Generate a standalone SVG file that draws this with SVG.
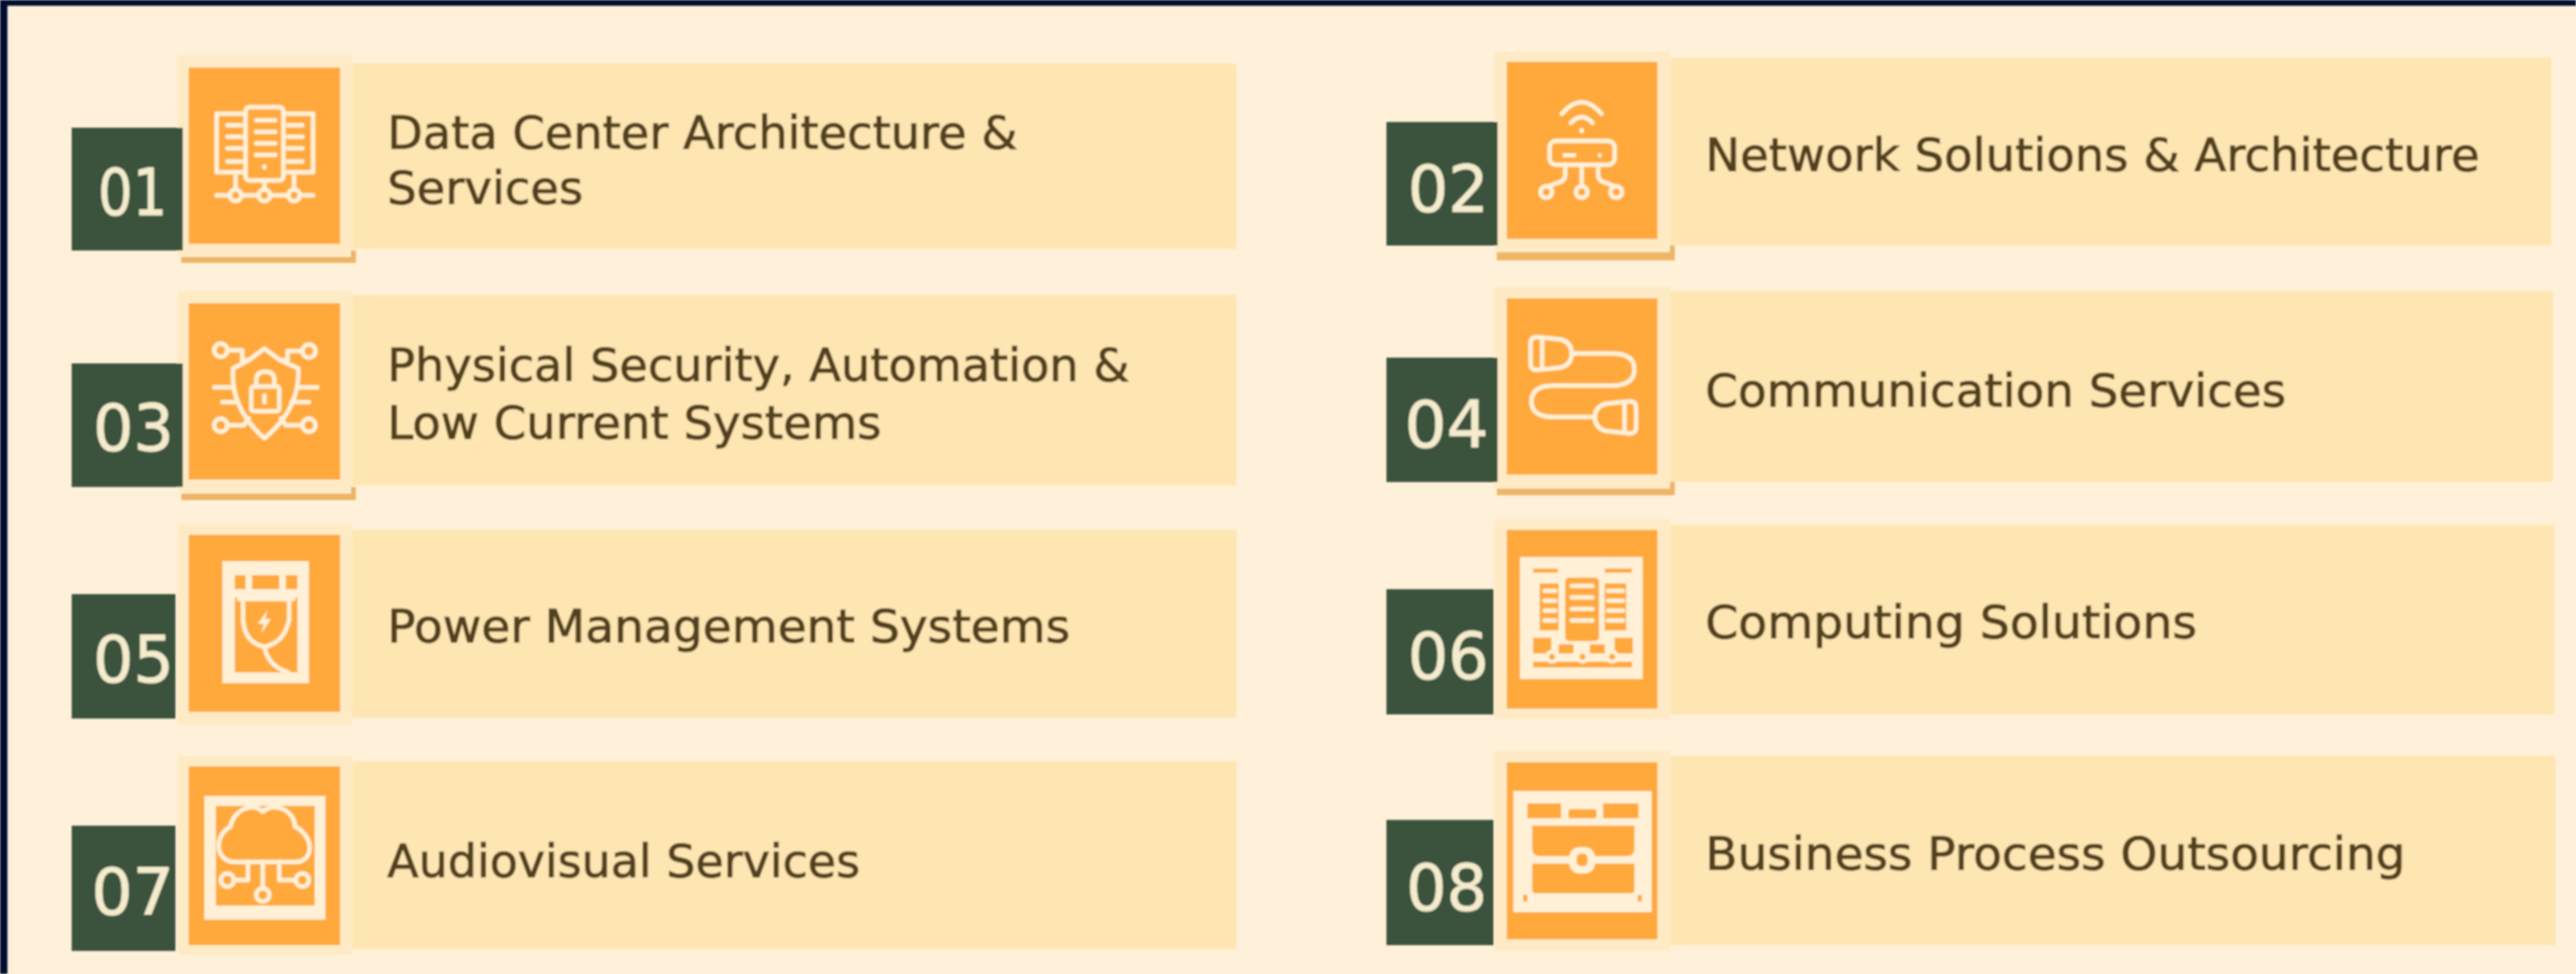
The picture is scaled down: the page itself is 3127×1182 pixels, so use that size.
<svg xmlns="http://www.w3.org/2000/svg" width="3127" height="1182" viewBox="0 0 3127 1182">
<style>
.bar{fill:#fee6b3}.halo{fill:#feebc6}.or{fill:#ffa93c}.box{fill:#3b523c}.under{fill:#edb566}
.lt{fill:#fff0d6}.lns{fill:none;stroke:#fff0d6;stroke-width:5.5;stroke-linecap:round;stroke-linejoin:round}
.lblf{fill:#ffa93c;stroke:#fff0d6;stroke-width:5;stroke-linejoin:round}
.num{font-family:"DejaVu Sans",sans-serif;font-size:78px;fill:#f5ecce;stroke:#f5ecce;stroke-width:.8}
.txt{font-family:"DejaVu Sans",sans-serif;font-size:56px;fill:#53401c;stroke:#53401c;stroke-width:1.1}
</style>
<defs><filter id="soft" x="0" y="0" width="100%" height="100%"><feGaussianBlur stdDeviation="1"/></filter></defs>
<rect width="3127" height="1182" fill="#fff1d9"/>
<g filter="url(#soft)">
<rect x="0" y="0" width="3127" height="7" fill="#030f33"/>
<rect x="0" y="0" width="9" height="1182" fill="#030f33"/>

<g id="node-01">
<rect class="bar" x="428" y="77" width="1073" height="225"/>
<rect class="halo" x="215" y="67" width="213" height="245"/>
<rect class="or" x="229" y="82" width="184" height="214"/>
<rect class="under" x="220" y="312" width="212" height="7"/><rect class="under" x="426" y="304" width="6" height="8"/>
<rect class="box" x="87" y="155" width="135" height="149"/>
<text class="num" x="119" y="261" textLength="84" lengthAdjust="spacingAndGlyphs">01</text>
<g class="lns"><path d="M298 209H263V138H298M344 138H380V209H344"/><rect x="298" y="130" width="46" height="89" rx="5"/>
<path d="M311 146H334M311 160H334M311 174H334M311 188H334M321 202V203M276 152H293M276 166H293M276 180H293M276 196H293M349 152H367M349 166H367M349 180H367M349 196H367M286 209V230M321 219V230M357 209V230M263 237H279M293 237H314M328 237H350M364 237H380"/>
<circle cx="286" cy="237" r="7"/><circle cx="321" cy="237" r="7"/><circle cx="357" cy="237" r="7"/></g>
<text class="txt" x="470" y="180" textLength="765" lengthAdjust="spacingAndGlyphs">Data Center Architecture &amp;</text>
<text class="txt" x="470" y="247" textLength="238" lengthAdjust="spacingAndGlyphs">Services</text>
</g>

<g id="node-02">
<rect class="bar" x="2028" y="70" width="1069" height="228"/>
<rect class="halo" x="1814" y="63" width="214" height="243"/>
<rect class="or" x="1829" y="75" width="183" height="215"/>
<rect class="under" x="1817" y="306" width="216" height="10"/><rect class="under" x="2027" y="298" width="6" height="8"/>
<rect class="box" x="1683" y="148" width="135" height="150"/>
<text class="num" x="1709" y="257" textLength="98" lengthAdjust="spacingAndGlyphs">02</text>
<g class="lns"><path d="M1896 138Q1920 110 1944 138M1907 149Q1920 135 1933 149M1920 158V159"/><rect x="1881" y="171" width="79" height="29" rx="8"/>
<path d="M1920 200V226M1900 200V212Q1900 220 1890 222L1880 226M1940 200V212Q1940 220 1950 222L1960 226"/>
<circle cx="1877" cy="233" r="7"/><circle cx="1920" cy="233" r="7"/><circle cx="1962" cy="233" r="7"/></g>
<rect class="lt" x="1897" y="186" width="16" height="5"/><rect class="lt" x="1940" y="186" width="4" height="5"/>
<text class="txt" x="2070" y="207" textLength="940" lengthAdjust="spacingAndGlyphs">Network Solutions &amp; Architecture</text>
</g>

<g id="node-03">
<rect class="bar" x="428" y="358" width="1073" height="231"/>
<rect class="halo" x="215" y="353" width="213" height="245"/>
<rect class="or" x="229" y="368" width="184" height="214"/>
<rect class="under" x="220" y="599" width="212" height="8"/><rect class="under" x="426" y="591" width="6" height="8"/>
<rect class="box" x="87" y="441" width="135" height="150"/>
<text class="num" x="113" y="547" textLength="98" lengthAdjust="spacingAndGlyphs">03</text>
<g class="lns"><path d="M321 423L340 437L362 447Q365 495 321 532Q279 495 283 447L302 437Z"/>
<rect x="305" y="469" width="34" height="30" rx="3"/><path d="M311 469V461Q311 451 322 451Q333 451 333 461V469M321 480V488"/>
<circle cx="268" cy="425" r="8"/><circle cx="375" cy="426" r="8"/><circle cx="268" cy="516" r="8"/><circle cx="375" cy="516" r="8"/>
<path d="M276 425H294V437H302M367 426H349V437H340M276 516H296L302 508M367 516H347L341 508M260 470H283M270 488H288M362 470H385M354 488H375"/></g>
<text class="txt" x="470" y="462" textLength="901" lengthAdjust="spacingAndGlyphs">Physical Security, Automation &amp;</text>
<text class="txt" x="470" y="532" textLength="600" lengthAdjust="spacingAndGlyphs">Low Current Systems</text>
</g>

<g id="node-04">
<rect class="bar" x="2028" y="353" width="1071" height="232"/>
<rect class="halo" x="1814" y="348" width="214" height="245"/>
<rect class="or" x="1829" y="362" width="183" height="214"/>
<rect class="under" x="1817" y="593" width="216" height="8"/><rect class="under" x="2027" y="585" width="6" height="8"/>
<rect class="box" x="1683" y="434" width="135" height="151"/>
<text class="num" x="1705" y="543" textLength="102" lengthAdjust="spacingAndGlyphs">04</text>
<g class="lns"><path d="M1908 429H1956Q1984 429 1984 448Q1984 468 1956 468H1886Q1859 468 1859 487Q1859 506 1886 506H1936"/>
<path d="M1866 409Q1858 409 1858 416V442Q1858 449 1866 449L1895 446Q1908 442 1908 429Q1908 416 1895 412ZM1872 410V448"/>
<path d="M1978 487Q1986 487 1986 494V519Q1986 526 1978 526L1949 523Q1936 519 1936 506Q1936 494 1949 490ZM1972 488V525"/></g>
<text class="txt" x="2070" y="493" textLength="705" lengthAdjust="spacingAndGlyphs">Communication Services</text>
</g>

<g id="node-05">
<rect class="bar" x="428" y="643" width="1073" height="228"/>
<rect class="halo" x="215" y="636" width="213" height="244"/>
<rect class="or" x="229" y="649" width="184" height="215"/>
<rect class="box" x="87" y="721" width="126" height="151"/>
<text class="num" x="113" y="828" textLength="98" lengthAdjust="spacingAndGlyphs">05</text>
<rect class="lt" x="270" y="681" width="105" height="148"/>
<rect class="or" x="285" y="693" width="76" height="123"/>
<rect class="lt" x="285" y="693" width="76" height="32"/>
<rect class="or" x="285" y="698" width="13" height="17"/><rect class="or" x="306" y="698" width="33" height="17"/><rect class="or" x="347" y="698" width="14" height="17"/>
<path class="lns" d="M290 727H356M295 727V752Q297 780 321 785Q345 780 351 752V727M321 785Q325 808 350 816"/>
<path class="lt" d="M325 740L313 757H320L317 769L329 751H322Z"/>
<text class="txt" x="470" y="779" textLength="829" lengthAdjust="spacingAndGlyphs">Power Management Systems</text>
</g>

<g id="node-06">
<rect class="bar" x="2028" y="637" width="1073" height="230"/>
<rect class="halo" x="1814" y="630" width="214" height="243"/>
<rect class="or" x="1829" y="643" width="183" height="217"/>
<rect class="box" x="1683" y="715" width="130" height="152"/>
<text class="num" x="1709" y="824" textLength="98" lengthAdjust="spacingAndGlyphs">06</text>
<rect class="lt" x="1845" y="676" width="149" height="148"/>
<rect class="or" x="1861" y="690" width="30" height="5"/><rect class="or" x="1948" y="690" width="33" height="5"/>
<rect class="or" x="1869" y="708" width="23" height="57"/><rect class="or" x="1948" y="708" width="26" height="57"/>
<rect class="or" x="1900" y="701" width="41" height="77" rx="5"/>
<path class="lns" d="M1875 717H1888M1875 729H1888M1875 741H1888M1875 753H1888M1952 717H1970M1952 729H1970M1952 741H1970M1952 753H1970M1908 711H1933M1908 725H1933M1908 739H1933M1908 753H1933" stroke-width="4"/>
<rect class="or" x="1861" y="774" width="22" height="19"/><rect class="or" x="1892" y="782" width="18" height="11"/><rect class="or" x="1930" y="782" width="18" height="11"/><rect class="or" x="1960" y="774" width="22" height="19"/>
<rect class="or" x="1861" y="803" width="120" height="7"/>
<path class="lns" d="M1861 797H1981" stroke-width="4"/>
<circle class="lblf" cx="1884" cy="797" r="6"/><circle class="lblf" cx="1921" cy="797" r="6"/><circle class="lblf" cx="1957" cy="797" r="6"/>
<text class="txt" x="2070" y="774" textLength="597" lengthAdjust="spacingAndGlyphs">Computing Solutions</text>
</g>

<g id="node-07">
<rect class="bar" x="428" y="924" width="1073" height="228"/>
<rect class="halo" x="215" y="917" width="213" height="242"/>
<rect class="or" x="229" y="930" width="184" height="217"/>
<rect class="box" x="87" y="1002" width="126" height="152"/>
<text class="num" x="111" y="1110" textLength="100" lengthAdjust="spacingAndGlyphs">07</text>
<rect class="lt" x="248" y="966" width="147" height="150"/>
<rect class="or" x="262" y="978" width="120" height="121"/>
<g class="lns"><path d="M285 1046C262 1046 258 1015 280 1003C282 985 305 972 319 985C335 972 358 985 358 1003C382 1015 382 1046 358 1046Z"/>
<path d="M319 1046V1078M301 1046V1068H284M339 1046V1068H359"/>
<circle cx="319" cy="1086" r="8"/><circle cx="276" cy="1068" r="8"/><circle cx="367" cy="1068" r="8"/></g>
<text class="txt" x="470" y="1064" textLength="574" lengthAdjust="spacingAndGlyphs">Audiovisual Services</text>
</g>

<g id="node-08">
<rect class="bar" x="2028" y="917" width="1074" height="230"/>
<rect class="halo" x="1814" y="911" width="214" height="243"/>
<rect class="or" x="1829" y="925" width="183" height="215"/>
<rect class="box" x="1683" y="995" width="130" height="152"/>
<text class="num" x="1707" y="1105" textLength="98" lengthAdjust="spacingAndGlyphs">08</text>
<rect class="lt" x="1837" y="960" width="168" height="147"/>
<rect class="or" x="1854" y="975" width="41" height="18"/><rect class="or" x="1946" y="975" width="43" height="18"/>
<rect class="or" x="1904" y="982" width="34" height="11" rx="3"/>
<path class="or" d="M1860 1002H1984V1030Q1984 1039 1974 1039H1870Q1860 1039 1860 1030Z"/>
<path class="or" d="M1860 1048H1905L1910 1054H1930L1936 1048H1984V1080Q1984 1084 1980 1084H1864Q1860 1084 1860 1080Z"/>
<rect class="lt" x="1905" y="1028" width="31" height="32" rx="12"/>
<rect class="or" x="1914" y="1036" width="13" height="15" rx="5"/>
<rect class="or" x="1849" y="1086" width="5" height="8"/><rect class="or" x="1988" y="1086" width="5" height="8"/>
<text class="txt" x="2070" y="1055" textLength="850" lengthAdjust="spacingAndGlyphs">Business Process Outsourcing</text>
</g>
</g>
</svg>
